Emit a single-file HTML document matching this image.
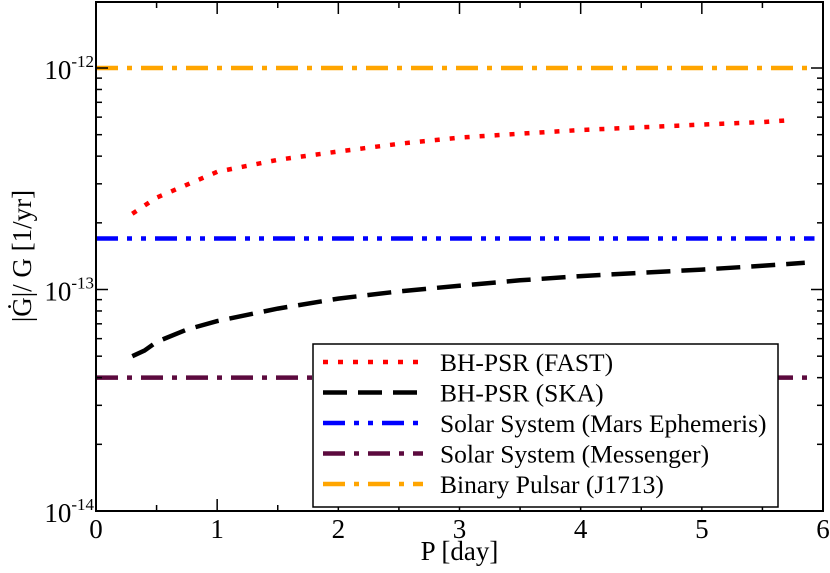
<!DOCTYPE html>
<html><head><meta charset="utf-8"><style>
html,body{margin:0;padding:0;background:#fff}
svg text{font-family:"Liberation Serif",serif;fill:#000}
</style></head><body>
<svg id="chart" width="830" height="568" viewBox="0 0 830 568">
<g id="marks"></g><g id="axes"></g><g id="legend"></g>
</svg>
<script>
const fastP=[0.3,0.5,1,1.5,2,2.5,3,3.5,4,4.5,5,5.5,5.7];
const fastG=[2.2e-13,2.6e-13,3.4e-13,3.85e-13,4.2e-13,4.55e-13,4.85e-13,5.05e-13,5.25e-13,5.4e-13,5.55e-13,5.7e-13,5.8e-13];
const skaP=[0.3,0.4,0.5,0.75,1,1.5,2,2.5,3,3.5,4,4.5,5,5.5,5.85];
const skaG=[5.0e-14,5.3e-14,5.8e-14,6.6e-14,7.2e-14,8.2e-14,9.1e-14,9.8e-14,1.04e-13,1.1e-13,1.15e-13,1.19e-13,1.23e-13,1.28e-13,1.32e-13];
const marsG=[1.7e-13];
const messG=[4.0e-14];
const j1713G=[1.0e-12];
const xTicks=[0,1,2,3,4,5,6];
const yTickExp=[-14,-13,-12];
const L=96,R=823,T=2,B=511;
const xs=p=>L+(p-0)/(6-0)*(R-L);
const yMin=-14,yMax=-11.702;
const ys=v=>B-(Math.log10(v)-yMin)/(yMax-yMin)*(B-T);
const NS="http://www.w3.org/2000/svg";
function mk(tag,at,parent){const e=document.createElementNS(NS,tag);for(const k in at)e.setAttribute(k,at[k]);parent.appendChild(e);return e;}
const marks=document.getElementById('marks'),axes=document.getElementById('axes'),leg=document.getElementById('legend');
const styles={
 fast:{stroke:'#ff0000',da:'5 10'},
 ska:{stroke:'#000000',da:'24 11'},
 mars:{stroke:'#0000ff',da:'22 9 5 9 5 9'},
 mess:{stroke:'#5c0a3e',da:'22 9 5 9'},
 j1713:{stroke:'#ffa500',da:'22 9 5 9'}
};
function path(P,G,s,name){
 const d=P.map((p,i)=>(i?'L':'M')+xs(p).toFixed(1)+' '+ys(G[i]).toFixed(1)).join(' ');
 const e=mk('path',{d:d,fill:'none',stroke:s.stroke,'stroke-width':4.5,'stroke-dasharray':s.da},marks);
 
 
}
path([0,5.93],[j1713G[0],j1713G[0]],styles.j1713,'j1713-line');
path([0,5.93],[marsG[0],marsG[0]],styles.mars,'mars-line');
path([0,5.93],[messG[0],messG[0]],styles.mess,'messenger-line');
path(fastP,fastG,styles.fast,'fast-curve');
path(skaP,skaG,styles.ska,'ska-curve');
const fr=mk('rect',{x:L,y:T,width:R-L,height:B-T,fill:'none',stroke:'#000','stroke-width':2},axes);


for(let i=0;i<=12;i++){const p=i*0.5,x=xs(p),len=(i%2==0)?12:6;
 mk('line',{x1:x,y1:B,x2:x,y2:B-len,stroke:'#000','stroke-width':1.5},axes);
 mk('line',{x1:x,y1:T,x2:x,y2:T+len,stroke:'#000','stroke-width':1.5},axes);}
xTicks.forEach(t=>{const e=mk('text',{x:xs(t),y:B+27,'text-anchor':'middle','font-size':27},axes);e.textContent=t;
 
 });
for(let ex=-14;ex<=-12;ex++){for(let m=1;m<=9;m++){const v=m*Math.pow(10,ex);if(Math.log10(v)>yMax)continue;const y=ys(v),len=m==1?12:6;
 mk('line',{x1:L,y1:y,x2:L+len,y2:y,stroke:'#000','stroke-width':1.5},axes);
 mk('line',{x1:R,y1:y,x2:R-len,y2:y,stroke:'#000','stroke-width':1.5},axes);}}
yTickExp.forEach(ex=>{const e=mk('text',{x:L-2,y:ys(Math.pow(10,ex))+11,'text-anchor':'end','font-size':27},axes);
 e.innerHTML='10<tspan dy="-12" font-size="17">'+ex+'</tspan>';
 
 });
const xt=mk('text',{x:(L+R)/2,y:560,'text-anchor':'middle','font-size':27},axes);xt.textContent='P [day]';


const yt=mk('text',{x:0,y:0,'text-anchor':'middle','font-size':27,transform:'translate(31,256) rotate(-90)'},axes);yt.textContent='|\u0120|/ G [1/yr]';


const lb=mk('rect',{x:313,y:344,width:465,height:163,fill:'#fff',stroke:'#000','stroke-width':1.5},leg);


const entries=[['fast','BH-PSR (FAST)'],['ska','BH-PSR (SKA)'],['mars','Solar System (Mars Ephemeris)'],['mess','Solar System (Messenger)'],['j1713','Binary Pulsar (J1713)']];
entries.forEach((en,i)=>{const y=362+i*30.5,s=styles[en[0]];
 const g=mk('g',{},leg);
 
 
 mk('line',{x1:323,y1:y,x2:423,y2:y,stroke:s.stroke,'stroke-width':4.5,'stroke-dasharray':s.da},g);
 const t=mk('text',{x:440,y:y+9,'font-size':25.5},g);t.textContent=en[1];});
</script>
</body></html>
